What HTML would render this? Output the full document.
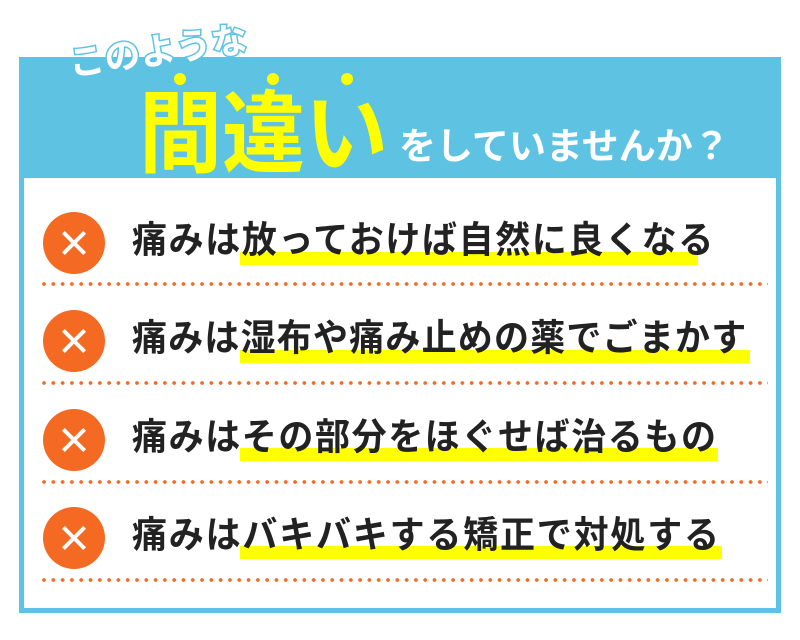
<!DOCTYPE html>
<html><head><meta charset="utf-8"><style>
body{margin:0;width:800px;height:640px;background:#fff;position:relative;overflow:hidden;font-family:"Liberation Sans","Noto Sans CJK JP",sans-serif}
.box{position:absolute;left:19px;top:57px;width:762px;height:556px;background:#5ec3e2}
.inner{position:absolute;left:24px;top:178px;width:752px;height:430px;background:#fff}
.c{position:absolute;left:43px;width:62px;height:62px;border-radius:50%;background:#f56a22}
.c:before,.c:after{content:"";position:absolute;left:16px;top:29px;width:30px;height:4px;background:#fff;transform:rotate(45deg)}
.c:after{transform:rotate(-45deg)}
.t{position:absolute;left:132px;font-size:35px;font-weight:bold;color:#222;white-space:nowrap;line-height:40px;transform:scaleY(1.05);transform-origin:left top}
.hl{position:absolute;left:240px;height:13px;background:#ffff00}
.dot{position:absolute;left:42px;width:726px;height:4px;background:radial-gradient(circle at 2px 2px,#f56a22 1.7px,transparent 2px) 0 0/9.3px 4px repeat-x}
</style></head><body>
<div class="box"></div><div class="inner"></div>
<div style="position:absolute;left:72px;top:42px;font-size:36px;font-weight:bold;color:#fff;-webkit-text-stroke:3px #5ec3e2;paint-order:stroke fill;transform:rotate(-8deg);transform-origin:left bottom;white-space:nowrap;line-height:44px">このような</div>
<div style="position:absolute;left:139px;top:86px;font-size:83px;font-weight:bold;color:#ffff00;line-height:90px;white-space:nowrap;transform:scaleY(1.08);transform-origin:left top">間違い</div>
<div style="position:absolute;left:174px;top:73px;width:12px;height:12px;border-radius:50%;background:#ff0"></div>
<div style="position:absolute;left:267px;top:73px;width:12px;height:12px;border-radius:50%;background:#ff0"></div>
<div style="position:absolute;left:341px;top:73px;width:12px;height:12px;border-radius:50%;background:#ff0"></div>
<div style="position:absolute;left:399px;top:122px;font-size:37px;font-weight:bold;color:#fff;white-space:nowrap;line-height:50px">をしていませんか？</div>

<div class="hl" style="top:252px;width:458px"></div>
<div class="hl" style="top:350px;width:510px"></div>
<div class="hl" style="top:448px;width:478px"></div>
<div class="hl" style="top:546px;width:482px"></div>

<div class="c" style="top:212px"></div>
<div class="c" style="top:310px"></div>
<div class="c" style="top:409px"></div>
<div class="c" style="top:507px"></div>

<div class="t" style="top:220px;letter-spacing:1.6px">痛みは放っておけば自然に良くなる</div>
<div class="t" style="top:318px;letter-spacing:1.2px">痛みは湿布や痛み止めの薬でごまかす</div>
<div class="t" style="top:417px;letter-spacing:1.6px">痛みはその部分をほぐせば治るもの</div>
<div class="t" style="top:515px;letter-spacing:1.8px">痛みはバキバキする矯正で対処する</div>

<div class="dot" style="top:282px"></div>
<div class="dot" style="top:381px"></div>
<div class="dot" style="top:480px"></div>
<div class="dot" style="top:578px"></div>
</body></html>
